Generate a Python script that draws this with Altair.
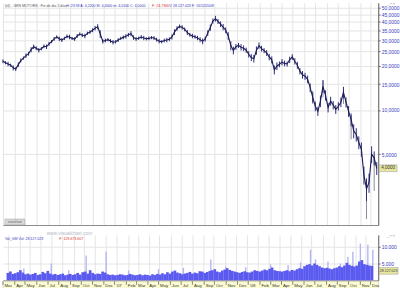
import altair as alt
import pandas as pd

# ---------------- data ----------------
start_date = "2006-03-01"
end_date = "2008-12-16"

# weekly closing prices (one value per 5 trading bars)
closes = [21.5, 21.0, 20.6, 20.2, 19.4, 19.0, 20.4, 21.8, 22.6, 23.5,
          24.2, 25.8, 27.0, 26.4, 25.6, 26.2, 27.2, 27.0, 28.3, 29.3,
          30.6, 31.5, 30.6, 30.0, 30.8, 31.8, 31.5, 30.8, 30.5, 32.0,
          33.0, 32.4, 32.0, 33.4, 34.0, 35.0, 36.2, 37.0, 33.0, 29.4,
          29.8, 30.2, 29.6, 29.0, 29.2, 30.0, 30.8, 31.3, 31.8, 32.6,
          33.2, 31.2, 30.5, 30.9, 31.5, 31.0, 30.6, 30.8, 31.2, 31.0,
          30.2, 29.5, 29.2, 29.8, 30.0, 30.4, 31.5, 34.0, 36.0, 37.2,
          36.6, 35.5, 33.8, 32.6, 32.0, 31.6, 31.0, 30.2, 29.4, 30.5,
          33.5, 36.5, 40.5, 42.0, 40.2, 38.5, 36.8, 35.0, 32.0, 27.5,
          25.5, 27.0, 27.6, 26.8, 26.4, 25.6, 24.0, 22.8, 22.4, 25.5,
          27.5, 26.2, 25.4, 24.5, 23.0, 22.0, 18.8, 19.9, 20.5, 21.2,
          20.8, 20.6, 22.0, 23.0, 21.5, 20.2, 18.4, 17.4, 17.0, 16.2,
          14.2, 12.2, 10.6, 9.8, 11.5, 14.5, 12.6, 10.4, 11.5, 10.8,
          10.1, 10.6, 11.3, 13.2, 11.3, 9.8, 8.6, 7.2, 6.8, 6.0,
          5.4, 3.6, 2.9, 3.2, 5.0, 4.7, 4.0]

# weekly high-low spread of the daily bars, in percent of the close
week_range = [6, 5, 7, 5, 8, 6, 7, 6, 5, 7,
              6, 8, 7, 6, 7, 5, 6, 7, 6, 5,
              6, 5, 7, 6, 5, 6, 7, 5, 6, 6,
              5, 6, 7, 5, 6, 6, 7, 8, 12, 7,
              6, 5, 6, 7, 5, 6, 5, 6, 7, 6,
              8, 7, 6, 5, 6, 7, 5, 6, 5, 6,
              6, 7, 5, 6, 7, 6, 8, 9, 7, 6,
              7, 6, 8, 6, 7, 6, 7, 8, 9, 8,
              9, 10, 8, 9, 8, 9, 10, 9, 12, 14,
              12, 9, 8, 10, 9, 8, 10, 11, 12, 13,
              10, 9, 8, 9, 10, 11, 14, 12, 9, 10,
              9, 8, 10, 9, 10, 11, 10, 12, 11, 12,
              14, 16, 15, 14, 18, 20, 16, 15, 14, 13,
              14, 13, 15, 18, 16, 17, 20, 22, 21, 20,
              22, 28, 35, 30, 26, 22, 20]

# notable high/low wicks (week index, low, high)
wick_week = [121, 125, 133, 136, 142, 145]
wick_low = [11.0, 12.2, 11.0, 6.3, 1.8, 2.8]
wick_high = [13.5, 16.0, 13.9, 9.2, 3.4, 4.9]

# typical weekly volume (units of 10.000 shares)
vol_base = [2200, 2600, 1900, 2100, 2400, 3000, 2300, 1800, 2000, 1700,
            1900, 2200, 1600, 1800, 2500, 2100, 2800, 2000, 1700, 1900,
            1600, 1800, 2000, 1500, 1700, 1900, 1600, 1800, 2200, 1700,
            2400, 2600, 2000, 3000, 2200, 1800, 2000, 1900, 2600, 2300,
            1800, 1600, 1700, 1500, 1600, 1800, 1700, 1500, 1600, 1900,
            1700, 1500, 1600, 1800, 1500, 1700, 1600, 1400, 1800, 1600,
            1900, 1700, 2100, 1800, 2400, 2000, 2600, 2900, 2300, 2100,
            1800, 2000, 2200, 2500, 2000, 2300, 2100, 2700, 2600, 2200,
            2500, 2800, 3000, 3300, 2600, 2400, 2900, 3200, 3600, 3100,
            2800, 2600, 2400, 2200, 2500, 2700, 2400, 2300, 2600, 3000,
            2800, 2600, 2900, 3200, 3000, 3400, 3800, 3000, 2800, 2700,
            2600, 2800, 3000, 2700, 3100, 2900, 3300, 3600, 3400, 4200,
            4600, 4800, 4400, 5000, 4600, 4200, 3800, 3600, 3700, 3500,
            3300, 3600, 3800, 4200, 3900, 4400, 5200, 4600, 4300, 4100,
            4400, 5600, 6000, 4800, 4600, 4400, 4300]

# single-day volume spikes (week index, volume)
spike_week = [6, 17, 24, 31, 39, 48, 60, 70, 81, 87, 95, 105, 112, 117,
              121, 123, 128, 133, 136, 138, 141, 144, 146]
spike_vol = [3500, 5000, 3000, 7400, 8500, 2900, 3300, 3700, 6200, 4100,
             3900, 4700, 4500, 5300, 9100, 6200, 5600, 5000, 7000, 8500,
             10900, 10600, 9100]

last_volume = 2812.7          # 28.127.023 shares
price_ticks = [5, 10, 15, 20, 25, 30, 35, 40, 45, 50]
vol_ticks = [5000, 10000]
month_names = ["Jan", "Feb", "Mar", "Apr", "May", "Jun",
               "Jul", "Aug", "Sep", "Oct", "Nov", "Dec"]

header_parts = [
    ("(t4) - GEN MOTORS : Fin de día 1 días", 2, "#555555"),
    ("H: 23:59  A: 4,2200  M: 4,4000  m: 4,0100  C: 4,0000", 64, "#3a3ac0"),
    ("F: 24,7366", 151, "#e03030"),
    ("V: 28.127.023  F: 16/12/2008", 168, "#3a3ac0"),
]
vol_header_parts = [
    ("Vol_GM  Vol: 28.127.023", 2, "#3a3ac0"),
    ("F: 129.673.607", 57, "#e03030"),
]

# ---------------- derived tables ----------------
days = pd.bdate_range(start_date, end_date)
idx = pd.Series(range(len(days)), index=days)
firsts = idx.groupby([days.year, days.month]).min()
tick_vals = [int(v) for v in firsts.values]
tick_labels = [("'" + str(y)[2:]) if m == 1 else month_names[m - 1]
               for (y, m) in firsts.index]

price_df = pd.DataFrame({
    "bar": [5 * i for i in range(len(closes))],
    "close": closes,
    "hi": [c * (1 + r / 200) for c, r in zip(closes, week_range)],
    "lo": [c * (1 - r / 200) for c, r in zip(closes, week_range)],
})
wick_df = pd.DataFrame({"bar": [5 * w for w in wick_week], "low": wick_low, "high": wick_high})
vol_df = pd.DataFrame({"bar": [5 * i for i in range(len(vol_base))], "vol": vol_base})
spike_df = pd.DataFrame({"bar": [5 * w + 2 for w in spike_week], "vol": spike_vol})
tick_df = pd.DataFrame({"t": tick_vals, "lab": tick_labels})
one = pd.DataFrame({"a": [0]})

W = 380
FONT = "Liberation Sans"
GRID = "#e4e4e4"
LBL = "#3a3ac0"

xs = alt.Scale(domain=[0, len(days) + 3], nice=False, zero=False)
ys = alt.Scale(type="log", domain=[1.64, 53.9], nice=False)
vs = alt.Scale(domain=[0, 13500], nice=False, zero=True)

x_grid_axis = alt.Axis(values=tick_vals, grid=True, gridColor=GRID, labels=False,
                       ticks=False, domain=True, domainColor="#8a8a8a", title=None,
                       minExtent=0, maxExtent=0)


def note(text, x, y, color, size=3.6, align="left"):
    return alt.Chart(one).mark_text(
        align=align, baseline="middle", fontSize=size, font=FONT, color=color, text=text
    ).encode(x=alt.value(x), y=alt.value(y))


# ---------------- price panel ----------------
price_y_axis = alt.Axis(
    orient="right", values=price_ticks, title=None, grid=True, gridColor=GRID,
    labelExpr="replace(format(datum.value, '.4f'), '.', ',')",
    labelFontSize=5, labelColor=LBL, labelFont=FONT, labelPadding=1,
    tickSize=2, tickColor="#777", domainColor="#555",
    minExtent=20, maxExtent=20,
)

ranges = alt.Chart(price_df).mark_rule(color="#2c2c78", strokeWidth=1).encode(
    x=alt.X("bar:Q", scale=xs, axis=x_grid_axis),
    y=alt.Y("lo:Q", scale=ys, axis=price_y_axis),
    y2="hi:Q",
)
wicks = alt.Chart(wick_df).mark_rule(color="#8a8a9a", strokeWidth=1).encode(
    x=alt.X("bar:Q", scale=xs, axis=x_grid_axis),
    y=alt.Y("low:Q", scale=ys, axis=price_y_axis),
    y2="high:Q",
)
line = alt.Chart(price_df).mark_line(color="#1a1a55", strokeWidth=1.1).encode(
    x=alt.X("bar:Q", scale=xs, axis=x_grid_axis),
    y=alt.Y("close:Q", scale=ys, axis=price_y_axis),
)

last = closes[-1]
last_box = alt.Chart(one).mark_rect(fill="#e6e6a0", stroke="#999999", strokeWidth=0.5).encode(
    x=alt.value(W + 1), x2=alt.value(W + 19),
    y=alt.datum(last * 1.055, scale=ys), y2=alt.datum(last / 1.055),
)
last_txt = alt.Chart(one).mark_text(
    fontSize=4.6, font=FONT, color="#333333", align="center", baseline="middle",
    text=f"{last:.4f}".replace(".", ",")
).encode(x=alt.value(W + 10), y=alt.datum(last, scale=ys))

btn = alt.Chart(one).mark_rect(fill="#d9d9d9", stroke="#9a9a9a", strokeWidth=0.5).encode(
    x=alt.value(2), x2=alt.value(22), y=alt.value(219), y2=alt.value(225))

price_layers = [wicks, ranges, line, last_box, last_txt, btn,
                note("visualchart", 12, 222, "#666666", size=3, align="center"),
                note("_ □ ×", 393, 1.2, "#666666", size=3.4, align="center")]
price_layers += [note(t, x, 3.5, c) for (t, x, c) in header_parts]

price = alt.layer(*price_layers).properties(width=W, height=225)

# ---------------- volume panel ----------------
vol_y_axis = alt.Axis(
    orient="right", values=vol_ticks, title=None, grid=True, gridColor=GRID,
    labelExpr="replace(format(datum.value, ','), ',', '.')",
    labelFontSize=5, labelColor=LBL, labelFont=FONT, labelPadding=1,
    tickSize=2, tickColor="#777", domainColor="#555",
    minExtent=20, maxExtent=20,
)

spikes = alt.Chart(spike_df).mark_bar(color="#b4b4f4", width=1.4).encode(
    x=alt.X("bar:Q", scale=xs, axis=x_grid_axis),
    y=alt.Y("vol:Q", scale=vs, axis=vol_y_axis),
)
bars = alt.Chart(vol_df).mark_bar(color="#5a5af0", width=2.7).encode(
    x=alt.X("bar:Q", scale=xs, axis=x_grid_axis),
    y=alt.Y("vol:Q", scale=vs, axis=vol_y_axis),
)
vbox = alt.Chart(one).mark_rect(fill="#e6e6a0", stroke="#999999", strokeWidth=0.5).encode(
    x=alt.value(W + 1), x2=alt.value(W + 20),
    y=alt.datum(last_volume + 1000, scale=vs), y2=alt.datum(last_volume - 1000),
)
vtxt = alt.Chart(one).mark_text(
    fontSize=3.6, font=FONT, color="#333333", align="center", baseline="middle",
    text="28.127.023"
).encode(x=alt.value(W + 10.5), y=alt.datum(last_volume, scale=vs))

vol_layers = [spikes, bars, vbox, vtxt,
              note("www.visualchart.com", 44, -2, "#b8b8c8", size=5),
              note("_ □ ×", 393, 1.5, "#666666", size=3.4, align="center")]
vol_layers += [note(t, x, 4, c) for (t, x, c) in vol_header_parts]
volume = alt.layer(*vol_layers).properties(width=W, height=46)

# ---------------- date band ----------------
band_bg = alt.Chart(one).mark_rect(fill="#fbfbd2", stroke="#b0b0a0", strokeWidth=0.5).encode(
    x=alt.value(0), x2=alt.value(W), y=alt.value(0), y2=alt.value(8))
band_ticks = alt.Chart(tick_df).mark_rule(color="#555555", strokeWidth=0.7).encode(
    x=alt.X("t:Q", scale=xs, axis=None), y=alt.value(0), y2=alt.value(3.5))
band_text = alt.Chart(tick_df).mark_text(
    align="left", baseline="middle", dx=1.5, fontSize=4.4, font=FONT, color="#333333"
).encode(x=alt.X("t:Q", scale=xs, axis=None), y=alt.value(4.6), text="lab:N")
band = alt.layer(band_bg, band_ticks, band_text).properties(width=W, height=8)

chart = alt.vconcat(
    price,
    alt.vconcat(volume, band, spacing=0),
    spacing=5,
).properties(padding=0, background="white").configure_view(stroke=None)

chart.save("out.html", embed_options={"renderer": "svg", "actions": False})
